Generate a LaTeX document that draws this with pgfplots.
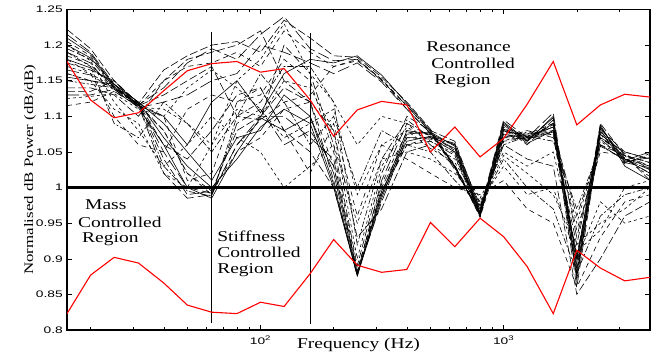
\documentclass[border=0pt]{standalone}
\usepackage{pgfplots}
\usepackage{pgfplotstable}
\pgfplotsset{compat=1.18}
\usepackage{fontspec}
\setmainfont[FakeStretch=1.3]{Liberation Serif}
\newfontfamily\tickfont[FakeStretch=1.45]{Liberation Sans}

% black ensemble: one column per curve
\pgfplotstableread{
f c1 c2 c3 c4 c5 c6 c7 c8 c9 c10 c11 c12 c13 c14 c15 c16 c17 c18 c19 c20 c21 c22 c23 c24
16 1.222 1.215 1.210 1.205 1.200 1.195 1.190 1.185 1.180 1.175 1.170 1.165 1.160 1.155 1.150 1.135 1.130 1.115 1.200 1.180 1.190 1.160 1.140 1.125
20 1.195 1.190 1.188 1.185 1.182 1.180 1.175 1.172 1.168 1.165 1.160 1.158 1.150 1.150 1.145 1.135 1.130 1.120 1.178 1.160 1.170 1.150 1.140 1.128
25 1.150 1.145 1.142 1.140 1.145 1.140 1.135 1.140 1.145 1.150 1.140 1.138 1.142 1.145 1.140 1.150 1.138 1.135 1.120 1.100 1.090 1.110 1.130 1.132
31.5 1.118 1.116 1.115 1.117 1.112 1.118 1.115 1.118 1.120 1.115 1.113 1.117 1.115 1.120 1.116 1.118 1.112 1.114 1.080 1.060 1.070 1.090 1.100 1.110
40 1.165 1.140 1.100 1.080 1.060 1.040 1.020 1.100 1.070 1.130 1.110 1.050 1.150 1.090 1.030 1.060 1.120 1.080 1.030 1.050 1.120 1.020 1.150 1.100
50 1.185 1.175 1.060 1.020 1.000 0.990 0.985 1.010 1.030 1.150 1.090 1.000 1.170 1.050 0.995 1.040 1.130 1.020 1.060 1.110 1.090 1.000 1.180 1.140
63 1.200 1.195 1.120 0.990 0.985 0.995 0.990 1.020 1.000 1.170 1.060 0.992 1.175 1.010 0.988 1.080 1.150 0.995 1.100 1.130 1.050 1.060 1.190 1.165
80 1.205 1.180 1.150 1.060 1.050 1.080 1.090 1.120 1.040 1.100 1.110 1.060 1.190 1.070 1.100 1.130 1.160 1.050 1.070 1.120 1.100 1.150 1.200 1.140
100 1.190 1.215 1.105 1.095 1.098 1.100 1.110 1.130 1.085 1.095 1.100 1.100 1.170 1.080 1.120 1.140 1.200 1.070 1.050 1.140 1.160 1.180 1.220 1.110
125 1.235 1.240 1.160 1.120 1.080 1.140 1.060 1.180 1.110 1.200 1.150 1.100 1.220 1.130 1.170 1.080 1.190 1.110 1.000 1.080 1.120 1.230 1.150 1.070
160 1.210 1.195 1.180 1.130 1.100 1.120 1.080 1.150 1.090 1.160 1.140 1.070 1.190 1.100 1.170 1.050 1.175 1.120 1.030 1.020 1.060 1.160 1.120 1.090
200 1.185 1.178 1.175 1.170 1.020 1.010 1.030 1.050 1.000 1.060 1.080 1.040 1.170 1.005 1.120 1.000 1.160 1.030 1.060 1.090 1.100 1.120 1.080 1.110
250 1.183 1.180 1.185 1.178 0.878 0.875 0.880 0.885 0.876 0.890 0.900 0.880 1.180 0.877 0.920 0.878 1.175 0.882 0.950 0.960 1.000 1.060 0.930 0.990
315 1.155 1.150 1.158 1.152 0.990 1.000 1.010 0.995 0.985 1.020 1.030 0.980 1.152 0.995 1.040 0.990 1.148 1.005 1.040 1.060 1.080 1.100 0.970 1.060
400 1.120 1.115 1.118 1.110 1.080 1.070 1.090 1.060 1.075 1.100 1.085 1.070 1.115 1.065 1.095 1.060 1.110 1.078 1.050 1.040 1.060 1.090 1.050 1.080
500 1.082 1.078 1.080 1.075 1.075 1.068 1.072 1.070 1.078 1.080 1.065 1.070 1.078 1.072 1.070 1.065 1.076 1.074 1.040 1.020 1.050 1.060 1.060 1.055
630 1.030 1.025 1.028 1.032 1.060 1.055 1.062 1.050 1.058 1.065 1.048 1.050 1.028 1.055 1.060 1.045 1.030 1.052 1.020 1.000 1.010 1.040 1.030 1.035
800 0.962 0.965 0.960 0.958 0.965 0.962 0.968 0.960 0.963 0.970 0.972 0.960 0.962 0.965 0.975 0.960 0.964 0.962 0.980 0.990 0.975 0.985 0.970 0.980
1000 1.070 1.075 1.080 1.065 1.090 1.085 1.095 1.078 1.088 1.070 1.065 1.082 1.075 1.092 1.060 1.080 1.070 1.085 1.030 1.010 1.040 1.050 1.060 1.045
1250 1.075 1.068 1.072 1.070 1.065 1.060 1.070 1.075 1.062 1.080 1.078 1.070 1.070 1.066 1.072 1.065 1.068 1.072 0.990 0.970 1.000 1.030 1.040 1.020
1600 1.080 1.090 1.085 1.075 1.100 1.095 1.105 1.090 1.080 1.070 1.075 1.085 1.080 1.098 1.065 1.090 1.078 1.088 1.000 0.950 0.970 1.050 1.030 0.990
2000 0.960 0.930 0.900 0.880 0.870 0.880 0.890 0.875 0.900 0.920 0.950 0.860 0.940 0.885 0.970 0.895 0.905 0.875 0.900 0.860 0.880 0.910 0.850 0.920
2500 1.060 1.070 1.085 1.075 1.088 1.080 1.082 1.070 1.060 1.075 1.065 1.078 1.050 1.085 1.058 1.090 1.068 1.080 0.980 0.930 0.960 0.940 0.900 0.950
3150 1.045 1.050 1.040 1.035 1.030 1.040 1.050 1.045 1.038 1.048 1.042 1.035 1.045 1.036 1.040 1.045 1.040 1.033 0.950 0.980 0.990 1.000 0.960 0.970
4000 1.030 1.040 1.020 1.045 1.010 1.030 1.040 1.035 1.050 1.025 1.015 1.028 1.035 1.042 1.020 1.010 1.025 1.048 0.960 0.990 1.000 1.010 0.980 1.000
}\blackdata

% red bounds
\pgfplotstableread{
f upper lower
16 1.177 0.823
20 1.123 0.877
25 1.098 0.902
31.5 1.105 0.894
40 1.136 0.866
50 1.164 0.835
63 1.174 0.825
80 1.177 0.823
100 1.162 0.839
125 1.167 0.833
160 1.123 0.879
200 1.072 0.927
250 1.109 0.891
315 1.121 0.881
400 1.116 0.885
500 1.050 0.951
630 1.085 0.917
800 1.043 0.957
1000 1.069 0.931
1250 1.117 0.889
1600 1.177 0.823
2000 1.088 0.912
2500 1.116 0.887
3150 1.131 0.869
4000 1.127 0.874
}\reddata

\tikzset{
 s0/.style={black, line width=0.6pt, solid},
 s1/.style={black, line width=0.6pt, dash pattern=on 8pt off 3pt},
 s2/.style={black, line width=0.6pt, dash pattern=on 5pt off 4pt},
 s3/.style={black, line width=0.6pt, dash pattern=on 12pt off 4pt},
 s4/.style={black, line width=0.6pt, dash pattern=on 3pt off 3pt},
 s5/.style={black, line width=0.6pt, dash pattern=on 6pt off 2pt on 2pt off 2pt},
}

\begin{document}
\begin{tikzpicture}
\begin{axis}[
 scale only axis, width=583pt, height=320.5pt,
 xmode=log, xmin=16, xmax=4000, ymin=0.8, ymax=1.25,
 xtick={100,1000}, xticklabels={10\textsuperscript{2},10\textsuperscript{3}},
 minor xtick={20,30,40,50,60,70,80,90,200,300,400,500,600,700,800,900,2000,3000,4000},
 ytick={0.8,0.85,0.9,0.95,1,1.05,1.1,1.15,1.2,1.25},
 yticklabels={0.8,0.85,0.9,0.95,1,1.05,1.1,1.15,1.2,1.25},
 tick align=inside, xtick pos=both, ytick pos=both,
 major tick length=5pt, minor tick length=3pt,
 tick style={black, line width=0.5pt},
 axis line style={line width=1.2pt},
 ticklabel style={font=\tickfont\fontsize{9.5}{10}\selectfont},
 yticklabel style={inner sep=0pt, xshift=-4pt},
 xticklabel style={inner sep=0pt, yshift=-6pt},
 xlabel={Frequency (Hz)},
 xlabel style={font=\fontsize{15}{17}\selectfont, at={([yshift=-18pt]axis description cs:0.5,0)}, anchor=base, inner sep=0pt},
 ylabel={Normalised dB Power (dB/dB)},
 ylabel style={font=\fontsize{13}{15}\selectfont, at={([xshift=-37pt]axis description cs:0,0.5)}, anchor=center, inner sep=0pt},
 clip=true,
]
\addplot[s1] table[x=f,y=c1] {\blackdata};
\addplot[s3] table[x=f,y=c2] {\blackdata};
\addplot[s0] table[x=f,y=c3] {\blackdata};
\addplot[s2] table[x=f,y=c4] {\blackdata};
\addplot[s0] table[x=f,y=c5] {\blackdata};
\addplot[s1] table[x=f,y=c6] {\blackdata};
\addplot[s3] table[x=f,y=c7] {\blackdata};
\addplot[s2] table[x=f,y=c8] {\blackdata};
\addplot[s0] table[x=f,y=c9] {\blackdata};
\addplot[s1] table[x=f,y=c10] {\blackdata};
\addplot[s4] table[x=f,y=c11] {\blackdata};
\addplot[s3] table[x=f,y=c12] {\blackdata};
\addplot[s2] table[x=f,y=c13] {\blackdata};
\addplot[s0] table[x=f,y=c14] {\blackdata};
\addplot[s5] table[x=f,y=c15] {\blackdata};
\addplot[s1] table[x=f,y=c16] {\blackdata};
\addplot[s3] table[x=f,y=c17] {\blackdata};
\addplot[s2] table[x=f,y=c18] {\blackdata};
\addplot[s4] table[x=f,y=c19] {\blackdata};
\addplot[s2] table[x=f,y=c20] {\blackdata};
\addplot[s5] table[x=f,y=c21] {\blackdata};
\addplot[s4] table[x=f,y=c22] {\blackdata};
\addplot[s1] table[x=f,y=c23] {\blackdata};
\addplot[s4] table[x=f,y=c24] {\blackdata};

\addplot[black, line width=0.7pt] coordinates {(63,1.218) (63,0.81)};
\addplot[black, line width=0.7pt] coordinates {(160,1.217) (160,0.808)};

\addplot[red, line width=1.1pt] table[x=f,y=upper] {\reddata};
\addplot[red, line width=1.1pt] table[x=f,y=lower] {\reddata};

\addplot[black, line width=2.3pt] coordinates {(16,1) (4000,1)};

\node[anchor=base west, inner sep=0pt, font=\fontsize{15}{17}\selectfont] at (axis cs:18.98,0.9685) {Mass};
\node[anchor=base west, inner sep=0pt, font=\fontsize{15}{17}\selectfont] at (axis cs:17.76,0.9446) {Controlled};
\node[anchor=base west, inner sep=0pt, font=\fontsize{15}{17}\selectfont] at (axis cs:18.45,0.9222) {Region};

\node[anchor=base west, inner sep=0pt, font=\fontsize{15}{17}\selectfont] at (axis cs:66.3,0.9236) {Stiffness};
\node[anchor=base west, inner sep=0pt, font=\fontsize{15}{17}\selectfont] at (axis cs:66.3,0.9018) {Controlled};
\node[anchor=base west, inner sep=0pt, font=\fontsize{15}{17}\selectfont] at (axis cs:66.3,0.8800) {Region};

\node[anchor=base west, inner sep=0pt, font=\fontsize{15}{17}\selectfont] at (axis cs:480,1.1907) {Resonance};
\node[anchor=base west, inner sep=0pt, font=\fontsize{15}{17}\selectfont] at (axis cs:504,1.1674) {Controlled};
\node[anchor=base west, inner sep=0pt, font=\fontsize{15}{17}\selectfont] at (axis cs:518,1.1447) {Region};
\end{axis}
\pgfresetboundingbox
\path[use as bounding box] ([xshift=-67pt,yshift=-26pt]current axis.south west) rectangle ([xshift=11pt,yshift=9.5pt]current axis.north east);
\end{tikzpicture}
\end{document}
